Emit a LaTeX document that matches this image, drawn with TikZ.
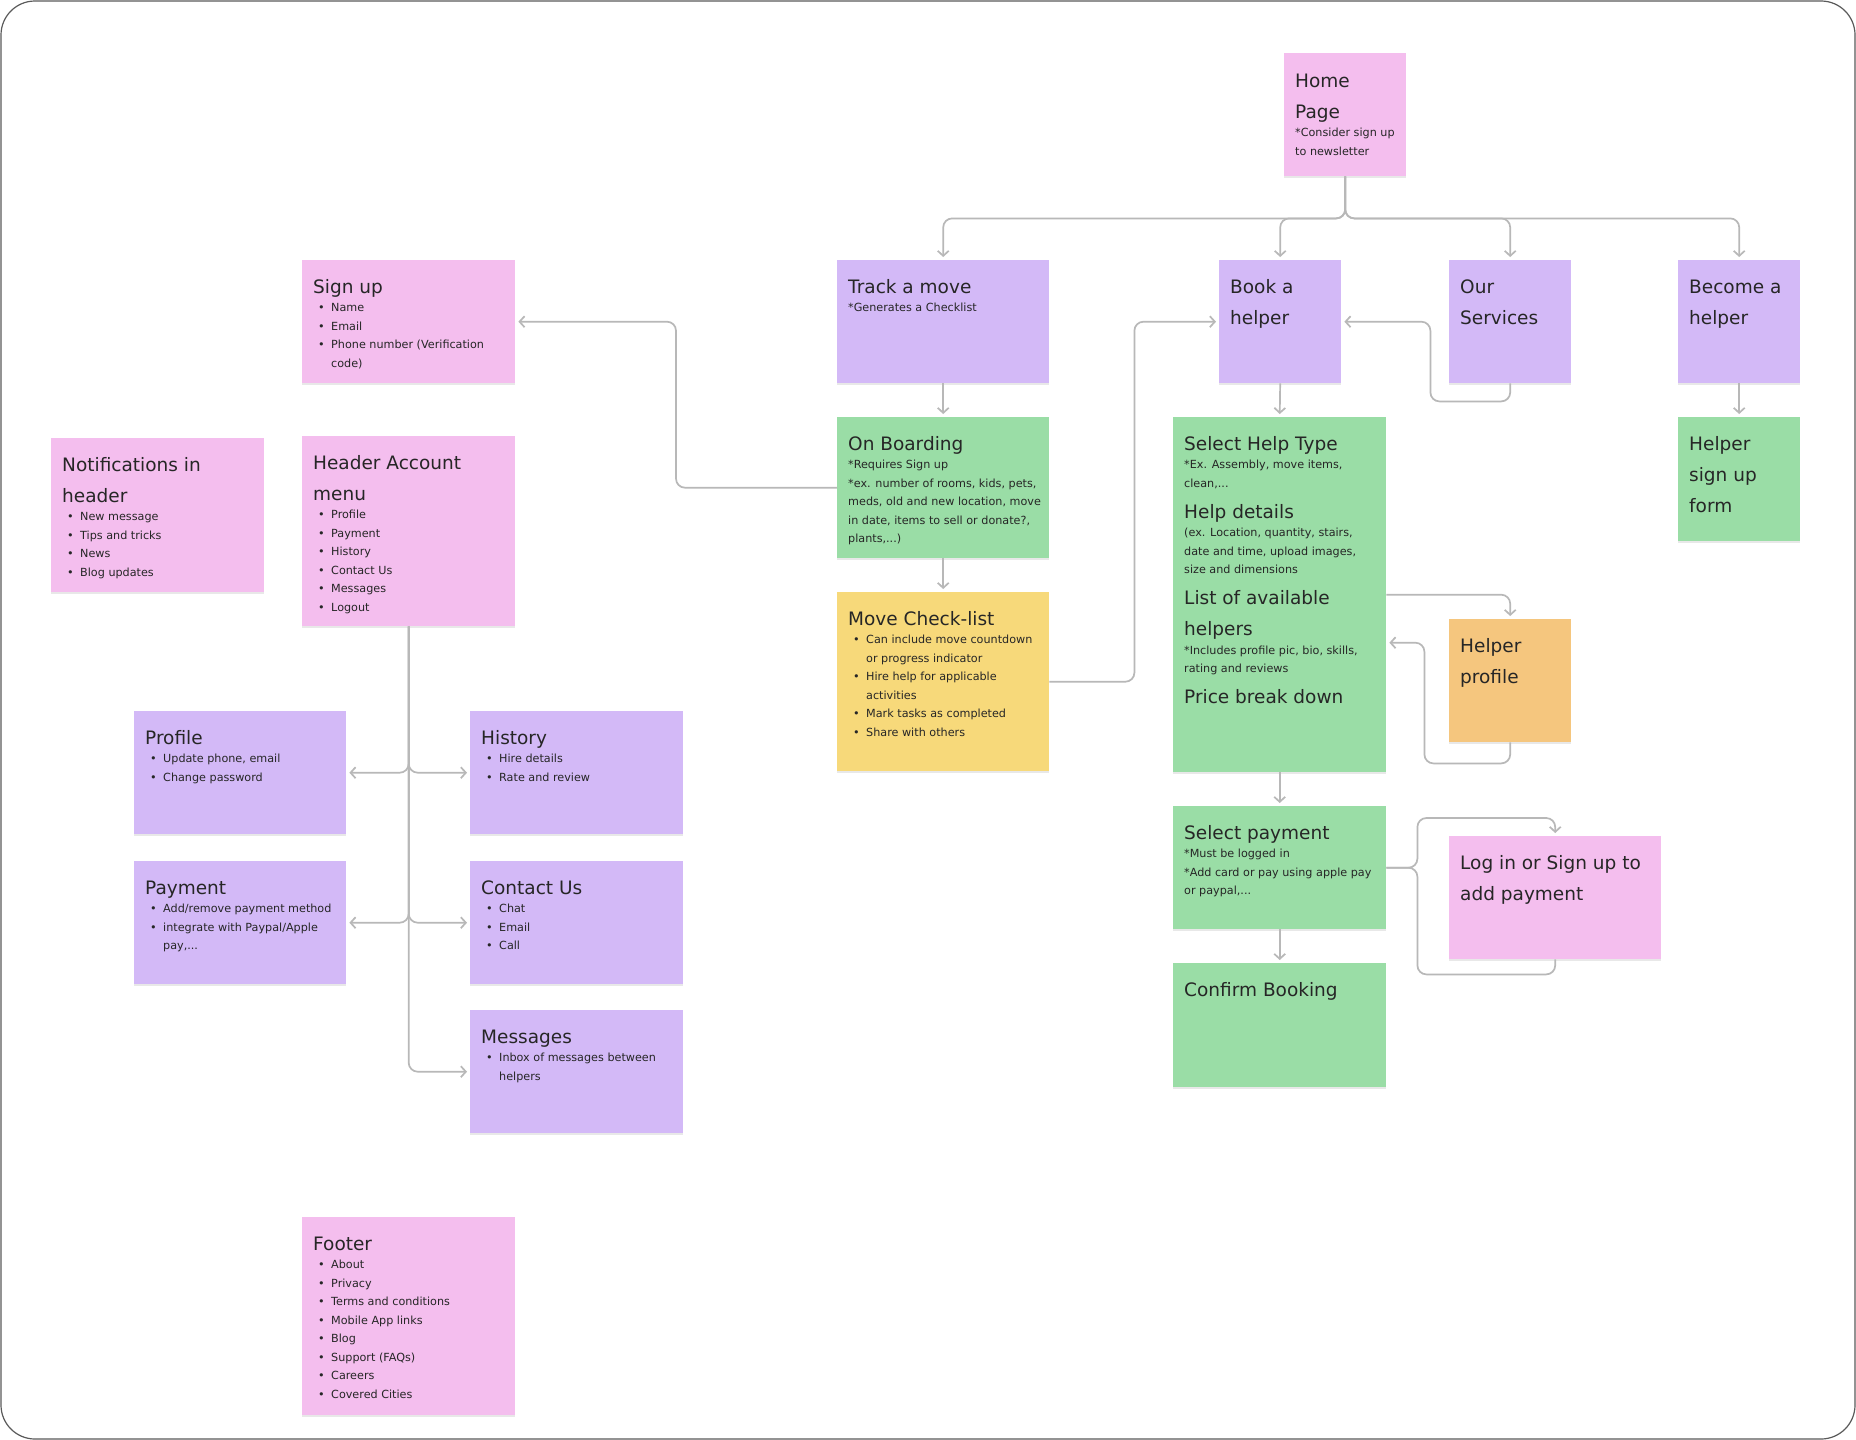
\documentclass[tikz,border=0pt]{standalone}
\usepackage{fontspec}
\setmainfont{DejaVu Sans}
\usetikzlibrary{arrows.meta,shadows,calc}
\definecolor{cpink}{HTML}{F4BEEE}
\definecolor{cpurple}{HTML}{D3B9F7}
\definecolor{cgreen}{HTML}{9ADDA6}
\definecolor{cyellow}{HTML}{F7D97A}
\definecolor{corange}{HTML}{F5C67E}
\definecolor{ink}{HTML}{262626}
\definecolor{lineg}{HTML}{B8B8B8}
\definecolor{framec}{HTML}{5A5A5A}
\newcommand\ctit[1]{\fontsize{18.5}{31}\selectfont\hbox{#1}}
\newcommand\csml[1]{\fontsize{11.2}{18.5}\selectfont\hbox{#1}}
\newcommand\cbul[1]{\fontsize{11.2}{18.5}\selectfont\hbox{\kern5pt\hbox to 13pt{\textbullet\hss}#1}}
\newcommand\ccon[1]{\fontsize{11.2}{18.5}\selectfont\hbox{\kern18pt #1}}
\tikzset{
  card/.style={anchor=north west, inner sep=0pt, draw=none,
    drop shadow={shadow xshift=0pt, shadow yshift=-2pt, opacity=.25, fill=black!35}},
  txt/.style={anchor=base west, inner sep=0pt, text=ink},
  conn/.style={draw=lineg, line width=1.7pt, rounded corners=9pt,
    -{Straight Barb[length=5pt,width=11pt]}, shorten >=3pt},
  plain/.style={draw=lineg, line width=1.7pt, rounded corners=9pt}
}
\begin{document}
\begin{tikzpicture}[x=1pt,y=-1pt]
\useasboundingbox (0,0) rectangle (1856,1440);
\fill[white] (0,0) rectangle (1856,1440);
\draw[framec, line width=1.2pt, rounded corners=34pt] (1,1) rectangle (1855,1439);

% boxes
\node[card, fill=cpink, minimum width=122pt, minimum height=123pt] (home) at (1284,53) {};
\node[card, fill=cpink, minimum width=213pt, minimum height=123pt] (signup) at (302,260) {};
\node[card, fill=cpink, minimum width=213pt, minimum height=154pt] (notif) at (51,438) {};
\node[card, fill=cpink, minimum width=213pt, minimum height=190pt] (header) at (302,436) {};
\node[card, fill=cpurple, minimum width=212pt, minimum height=123pt] (track) at (837,260) {};
\node[card, fill=cgreen, minimum width=212pt, minimum height=141pt] (onboard) at (837,417) {};
\node[card, fill=cyellow, minimum width=212pt, minimum height=179pt] (check) at (837,592) {};
\node[card, fill=cpurple, minimum width=122pt, minimum height=123pt] (book) at (1219,260) {};
\node[card, fill=cpurple, minimum width=122pt, minimum height=123pt] (services) at (1449,260) {};
\node[card, fill=cpurple, minimum width=122pt, minimum height=123pt] (become) at (1678,260) {};
\node[card, fill=cgreen, minimum width=122pt, minimum height=124pt] (hsignup) at (1678,417) {};
\node[card, fill=cgreen, minimum width=213pt, minimum height=355pt] (helptype) at (1173,417) {};
\node[card, fill=corange, minimum width=122pt, minimum height=123pt] (hprofile) at (1449,619) {};
\node[card, fill=cgreen, minimum width=213pt, minimum height=123pt] (selpay) at (1173,806) {};
\node[card, fill=cgreen, minimum width=213pt, minimum height=124pt] (confirm) at (1173,963) {};
\node[card, fill=cpink, minimum width=212pt, minimum height=123pt] (login) at (1449,836) {};
\node[card, fill=cpurple, minimum width=212pt, minimum height=123pt] (profile) at (134,711) {};
\node[card, fill=cpurple, minimum width=213pt, minimum height=123pt] (history) at (470,711) {};
\node[card, fill=cpurple, minimum width=212pt, minimum height=123pt] (payment) at (134,861) {};
\node[card, fill=cpurple, minimum width=213pt, minimum height=123pt] (contact) at (470,861) {};
\node[card, fill=cpurple, minimum width=213pt, minimum height=123pt] (messages) at (470,1010) {};
\node[card, fill=cpink, minimum width=213pt, minimum height=198pt] (footer) at (302,1217) {};

% texts
\node[txt] (homeT) at ([shift={(11pt,-34pt)}]home.north west) {\vtop{
\ctit{Home}
\ctit{Page}
\csml{*Consider sign up}
\csml{to newsletter}}};
\node[txt] (signupT) at ([shift={(11pt,-33pt)}]signup.north west) {\vtop{
\ctit{Sign up}
\cbul{Name}
\cbul{Email}
\cbul{Phone number (Verification}
\ccon{code)}}};
\node[txt] (notifT) at ([shift={(11pt,-33pt)}]notif.north west) {\vtop{
\ctit{Notifications in}
\ctit{header}
\cbul{New message}
\cbul{Tips and tricks}
\cbul{News}
\cbul{Blog updates}}};
\node[txt] (headerT) at ([shift={(11pt,-33pt)}]header.north west) {\vtop{
\ctit{Header Account}
\ctit{menu}
\cbul{Profile}
\cbul{Payment}
\cbul{History}
\cbul{Contact Us}
\cbul{Messages}
\cbul{Logout}}};
\node[txt] (trackT) at ([shift={(11pt,-33pt)}]track.north west) {\vtop{
\ctit{Track a move}
\csml{*Generates a Checklist}}};
\node[txt] (onboardT) at ([shift={(11pt,-33pt)}]onboard.north west) {\vtop{
\ctit{On Boarding}
\csml{*Requires Sign up}
\csml{*ex. number of rooms, kids, pets,}
\csml{meds, old and new location, move}
\csml{in date, items to sell or donate?,}
\csml{plants,...)}}};
\node[txt] (checkT) at ([shift={(11pt,-33pt)}]check.north west) {\vtop{
\ctit{Move Check-list}
\cbul{Can include move countdown}
\ccon{or progress indicator}
\cbul{Hire help for applicable}
\ccon{activities}
\cbul{Mark tasks as completed}
\cbul{Share with others}}};
\node[txt] (bookT) at ([shift={(11pt,-33pt)}]book.north west) {\vtop{
\ctit{Book a}
\ctit{helper}}};
\node[txt] (servicesT) at ([shift={(11pt,-33pt)}]services.north west) {\vtop{
\ctit{Our}
\ctit{Services}}};
\node[txt] (becomeT) at ([shift={(11pt,-33pt)}]become.north west) {\vtop{
\ctit{Become a}
\ctit{helper}}};
\node[txt] (hsignupT) at ([shift={(11pt,-33pt)}]hsignup.north west) {\vtop{
\ctit{Helper}
\ctit{sign up}
\ctit{form}}};
\node[txt] (helptypeT) at ([shift={(11pt,-33pt)}]helptype.north west) {\vtop{
\ctit{Select Help Type}
\csml{*Ex. Assembly, move items,}
\csml{clean,...}
\ctit{Help details}
\csml{(ex. Location, quantity, stairs,}
\csml{date and time, upload images,}
\csml{size and dimensions}
\ctit{List of available}
\ctit{helpers}
\csml{*Includes profile pic, bio, skills,}
\csml{rating and reviews}
\ctit{Price break down}}};
\node[txt] (hprofileT) at ([shift={(11pt,-33pt)}]hprofile.north west) {\vtop{
\ctit{Helper}
\ctit{profile}}};
\node[txt] (selpayT) at ([shift={(11pt,-33pt)}]selpay.north west) {\vtop{
\ctit{Select payment}
\csml{*Must be logged in}
\csml{*Add card or pay using apple pay}
\csml{or paypal,...}}};
\node[txt] (confirmT) at ([shift={(11pt,-33pt)}]confirm.north west) {\vtop{
\ctit{Confirm Booking}}};
\node[txt] (loginT) at ([shift={(11pt,-33pt)}]login.north west) {\vtop{
\ctit{Log in or Sign up to}
\ctit{add payment}}};
\node[txt] (profileT) at ([shift={(11pt,-33pt)}]profile.north west) {\vtop{
\ctit{Profile}
\cbul{Update phone, email}
\cbul{Change password}}};
\node[txt] (historyT) at ([shift={(11pt,-33pt)}]history.north west) {\vtop{
\ctit{History}
\cbul{Hire details}
\cbul{Rate and review}}};
\node[txt] (paymentT) at ([shift={(11pt,-33pt)}]payment.north west) {\vtop{
\ctit{Payment}
\cbul{Add/remove payment method}
\cbul{integrate with Paypal/Apple}
\ccon{pay,...}}};
\node[txt] (contactT) at ([shift={(11pt,-33pt)}]contact.north west) {\vtop{
\ctit{Contact Us}
\cbul{Chat}
\cbul{Email}
\cbul{Call}}};
\node[txt] (messagesT) at ([shift={(11pt,-33pt)}]messages.north west) {\vtop{
\ctit{Messages}
\cbul{Inbox of messages between}
\ccon{helpers}}};
\node[txt] (footerT) at ([shift={(11pt,-33pt)}]footer.north west) {\vtop{
\ctit{Footer}
\cbul{About}
\cbul{Privacy}
\cbul{Terms and conditions}
\cbul{Mobile App links}
\cbul{Blog}
\cbul{Support (FAQs)}
\cbul{Careers}
\cbul{Covered Cities}}};

% connectors
\draw[conn] (home.south) -- ++(0,42) -| (track.north);
\draw[conn] (home.south) -- ++(0,42) -| (book.north);
\draw[conn] (home.south) -- ++(0,42) -| (services.north);
\draw[conn] (home.south) -- ++(0,42) -| (become.north);
\draw[conn] (track.south) -- (onboard.north);
\draw[conn] (onboard.south) -- (check.north);
\draw[conn] (onboard.west) -- ++(-161,0) |- (signup.east);
\draw[conn] (check.east) -- ++(85,0) |- (book.west);
\draw[conn] (services.south) -- ++(0,18) -| ([xshift=89pt]book.east) -- (book.east);
\draw[conn] (book.south) -- (helptype.north);
\draw[conn] (become.south) -- (hsignup.north);
\draw[conn] (helptype.east) -| (hprofile.north);
\draw[conn] (hprofile.south) -- ++(0,21) -| ([xshift=38pt,yshift=-48pt]helptype.east) -- ([yshift=-48pt]helptype.east);
\draw[conn] (helptype.south) -- (selpay.north);
\draw[conn] (selpay.south) -- (confirm.north);
\draw[conn] (selpay.east) -- ++(31,0) |- ([yshift=18pt]login.north) -- (login.north);
\draw[plain] (selpay.east) -- ++(31,0) |- ([yshift=-15pt]login.south) -- (login.south);
\draw[conn] (header.south) |- (profile.east);
\draw[conn] (header.south) |- (history.west);
\draw[conn] (header.south) |- (payment.east);
\draw[conn] (header.south) |- (contact.west);
\draw[conn] (header.south) |- (messages.west);
\end{tikzpicture}
\end{document}
